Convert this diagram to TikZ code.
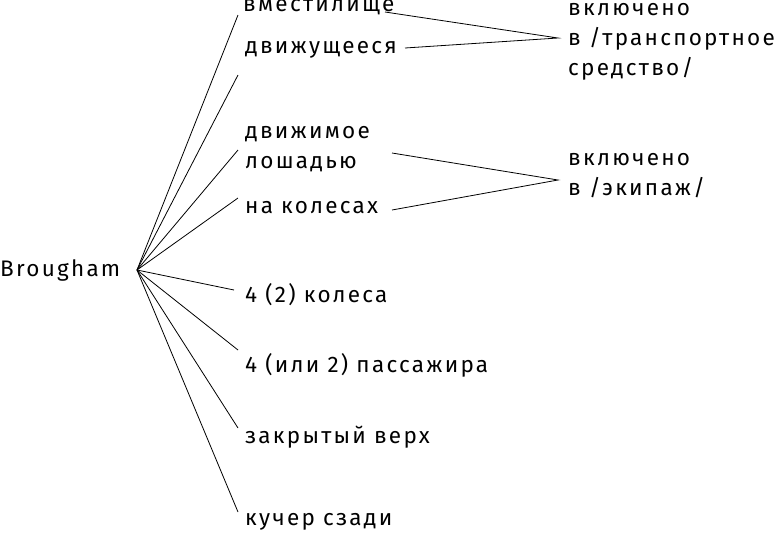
\documentclass[tikz,border=0pt]{standalone}
\usepackage{fontspec}
\setmainfont[LetterSpace=10]{Fira Sans}
\begin{document}
\begin{tikzpicture}[x=1pt,y=-1pt,
  lbl/.style={anchor=west,inner sep=0pt,font=\fontsize{22.5}{30}\selectfont,align=left},
  ln/.style={line width=0.8pt}]
\useasboundingbox (0,0) rectangle (774,536);
\node[lbl] (b) at (0,270) {Brougham};
\coordinate (h) at (137,270);
\node[lbl] (t1) at (243,7) {вместилище};
\node[lbl] (t2) at (245,50) {движущееся};
\node[lbl] (t3) at (245,149) {движимое\\лошадью};
\node[lbl] (t4) at (245,208) {на колесах};
\node[lbl] (t5) at (245,295) {4 (2) колеса};
\node[lbl] (t6) at (245,365) {4 (или 2) пассажира};
\node[lbl] (t7) at (245,437) {закрытый верх};
\node[lbl] (t8) at (245,522) {кучер сзади};
\node[lbl] (r1) at (568,42) {включено\\в /транспортное\\средство/};
\node[lbl] (r2) at (568,176) {включено\\в /экипаж/};
\coordinate (c1) at (558,38);
\coordinate (c2) at (558,180);
\draw[ln] (h) -- (238,15);
\draw[ln] (h) -- (238,75);
\draw[ln] (h) -- (238,150);
\draw[ln] (h) -- (238,198);
\draw[ln] (h) -- (234,290);
\draw[ln] (h) -- (238,350);
\draw[ln] (h) -- (238,428);
\draw[ln] (h) -- (238,512);
\draw[ln] (385,12) -- (c1) -- (405,48);
\draw[ln] (392,153) -- (c2) -- (392,210);
\end{tikzpicture}
\end{document}
